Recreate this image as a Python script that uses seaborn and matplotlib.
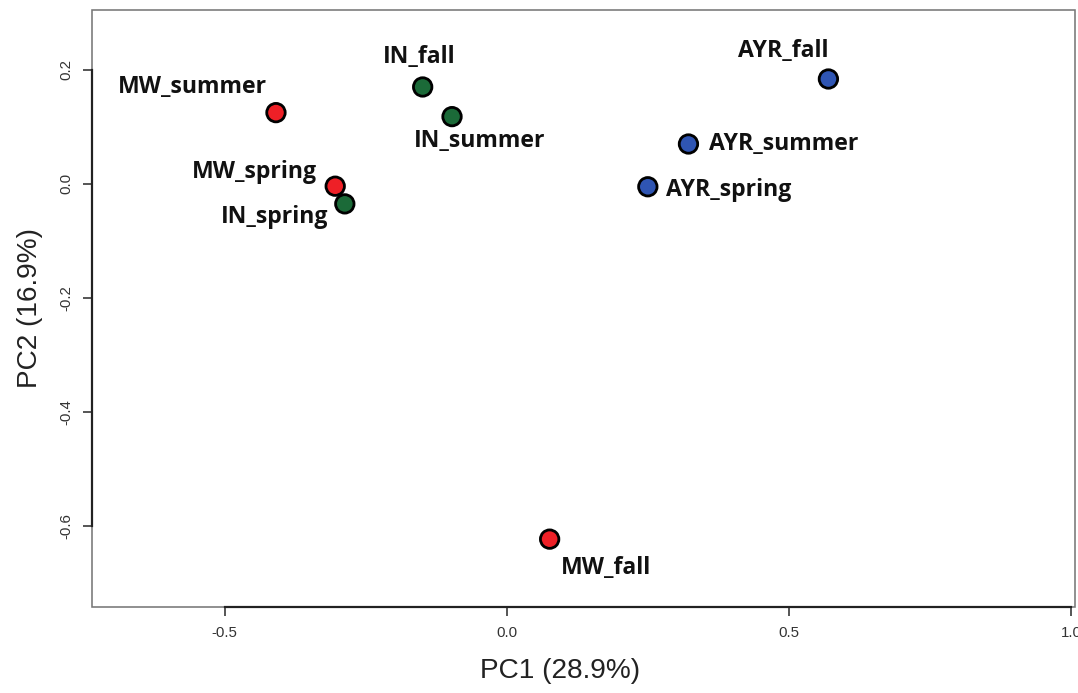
import pandas as pd
import seaborn as sns
import matplotlib.pyplot as plt
from matplotlib.patches import Rectangle

# PCA scores
samples = ["MW_summer", "MW_spring", "MW_fall",
           "IN_fall", "IN_summer", "IN_spring",
           "AYR_fall", "AYR_summer", "AYR_spring"]
pc1 = [-0.409, -0.304, 0.076, -0.149, -0.097, -0.287, 0.570, 0.322, 0.250]
pc2 = [0.125, -0.004, -0.623, 0.170, 0.118, -0.035, 0.184, 0.070, -0.005]
site = ["MW", "MW", "MW", "IN", "IN", "IN", "AYR", "AYR", "AYR"]

# label offsets (in points) and alignment for each sample
label_offset = {
    "MW_summer": (-9, 26, "right"),
    "MW_spring": (-18, 14, "right"),
    "MW_fall": (11, -29, "left"),
    "IN_fall": (-3, 30, "center"),
    "IN_summer": (-38, -24, "left"),
    "IN_spring": (-16, -13, "right"),
    "AYR_fall": (0, 28, "right"),
    "AYR_summer": (21, 0, "left"),
    "AYR_spring": (18, -3, "left"),
}

colors = {"MW": "#ee2027", "IN": "#1b6a38", "AYR": "#2f55b3"}


def main():
    sns.set_style("white")
    plt.rcParams['font.family'] = ['Liberation Sans', 'DejaVu Sans']

    data = pd.DataFrame({"sample": samples, "pc1": pc1, "pc2": pc2,
                         "site": site})

    fig = plt.figure(figsize=(1078 / 72, 693 / 72), dpi=72)
    ax = fig.add_axes([92 / 1078, 1 - 607 / 693, 983 / 1078, 597 / 693])

    sns.scatterplot(x="pc1", y="pc2", data=data, hue="site",
                    palette=colors, s=340, edgecolor="black",
                    linewidth=2.8, legend=False, ax=ax, zorder=3)

    for _, row in data.iterrows():
        dx, dy, ha = label_offset[row["sample"]]
        ax.annotate(row["sample"], (row["pc1"], row["pc2"]),
                    xytext=(dx, dy), textcoords="offset points",
                    ha=ha, va="center", fontsize=23, fontweight="bold",
                    family="Open Sans", color="#111111")

    ax.set_xlim(-0.735, 1.007)
    ax.set_ylim(-0.742, 0.305)
    ax.set_xticks([-0.5, 0.0, 0.5, 1.0])
    ax.set_xticklabels(["-0.5", "0.0", "0.5", "1.0"])
    ax.set_yticks([0.2, 0.0, -0.2, -0.4, -0.6])
    ax.set_yticklabels(["0.2", "0.0", "-0.2", "-0.4", "-0.6"],
                       rotation=90, va="center")
    ax.tick_params(axis="both", direction="out", length=9, width=1.5,
                   color="#222222", labelsize=15, pad=10, bottom=True,
                   left=True, labelcolor="#333333")

    # R-style: axis lines only across the tick range, grey box around
    for side in ["top", "right"]:
        ax.spines[side].set_visible(False)
    ax.spines["left"].set_bounds(-0.6, 0.2)
    ax.spines["bottom"].set_bounds(-0.5, 1.0)
    for side in ["left", "bottom"]:
        ax.spines[side].set_linewidth(2.2)
        ax.spines[side].set_color("#222222")
    ax.add_patch(Rectangle((0, 0), 1, 1, transform=ax.transAxes,
                           fill=False, edgecolor="#777777", linewidth=1.6,
                           clip_on=False, zorder=1))

    ax.set_xlabel("PC1 (28.9%)", fontsize=28, color="#222222")
    ax.set_ylabel("PC2 (16.9%)", fontsize=28, color="#222222")
    ax.xaxis.set_label_coords(0.476, -0.085)
    ax.yaxis.set_label_coords(-0.05, 0.5)

    fig.savefig("out.png", dpi=72)


if __name__ == '__main__':
    main()
